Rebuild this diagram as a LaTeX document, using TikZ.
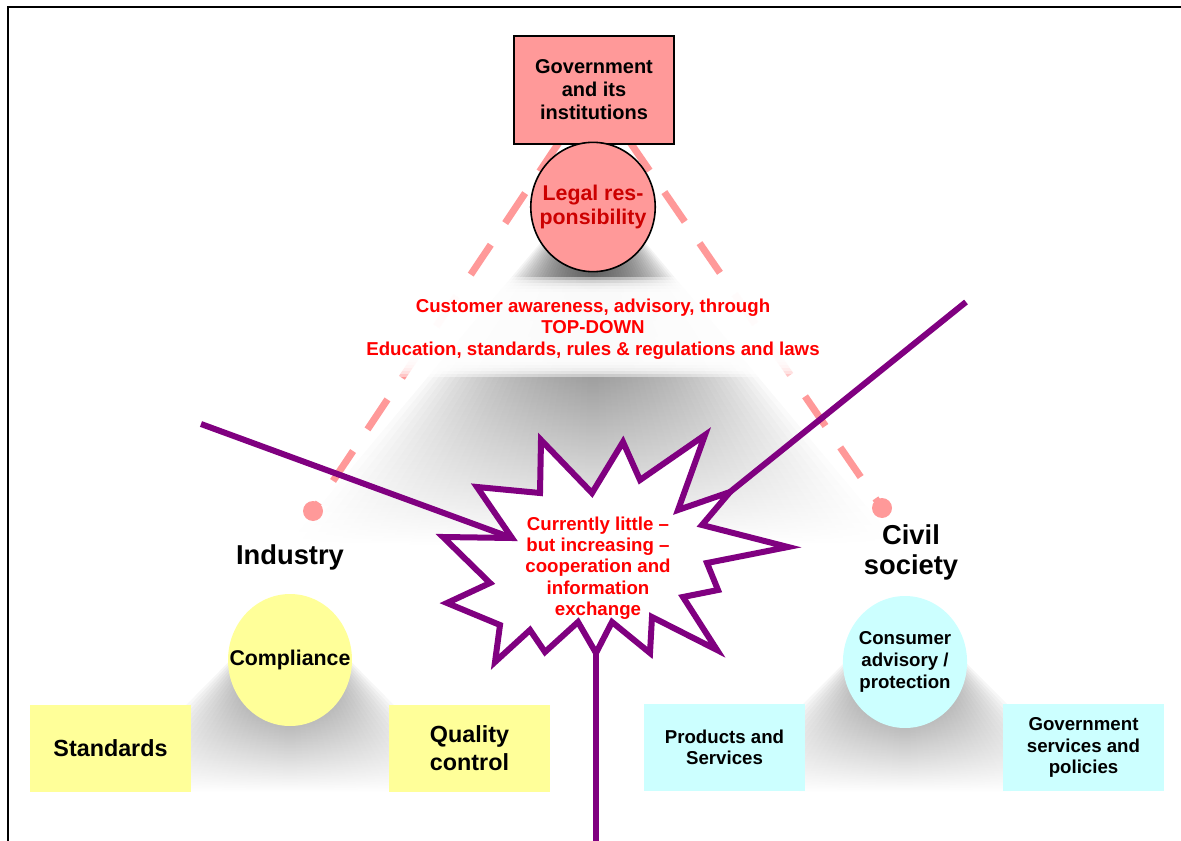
\documentclass[tikz,border=0pt]{standalone}
\usepackage{fontspec}
\setmainfont{Liberation Sans}
\usetikzlibrary{shapes.geometric}
\pgfdeclarelayer{shadow}
\pgfdeclarelayer{background}
\pgfsetlayers{shadow,background,main}

\definecolor{govpink}{HTML}{FF9999}
\definecolor{legalred}{HTML}{CC0000}
\definecolor{linkpurple}{HTML}{800080}
\definecolor{indyellow}{HTML}{FFFF99}
\definecolor{civcyan}{HTML}{CCFFFF}

\tikzset{
  govbox/.style={rectangle, draw=black, line width=1.5pt, fill=govpink, minimum width=120pt, minimum height=81pt, align=center, font=\fontsize{15}{17.3}\selectfont\bfseries},
  legal/.style={ellipse, draw=black, line width=1.2pt, fill=govpink, minimum width=93pt, minimum height=97pt, inner xsep=-7pt, inner ysep=0pt, align=center, text=legalred, font=\fontsize{16}{18}\selectfont\bfseries},
  sector/.style={align=center, font=\fontsize{20.5}{22.5}\selectfont\bfseries},
  yelloval/.style={ellipse, fill=indyellow, minimum width=93pt, minimum height=99pt, inner xsep=-12.5pt, inner ysep=0pt, align=center, font=\fontsize{16}{18}\selectfont\bfseries},
  cyanoval/.style={ellipse, fill=civcyan, minimum width=93pt, minimum height=99pt, inner xsep=-1.7pt, inner ysep=0pt, align=center, font=\fontsize{14}{16.2}\selectfont\bfseries},
  yellbox/.style={rectangle, fill=indyellow, minimum width=120.75pt, minimum height=65.25pt, align=center, font=\fontsize{17.5}{21}\selectfont\bfseries},
  cyanbox/.style={rectangle, fill=civcyan, minimum width=120.75pt, minimum height=65.25pt, align=center, font=\fontsize{14}{16.2}\selectfont\bfseries},
  pinkdot/.style={circle, fill=govpink, minimum size=15pt, inner sep=0pt},
  pinkdash/.style={draw=govpink, line width=5.25pt, dash pattern=on 27pt off 19.5pt},
  linkline/.style={draw=linkpurple, line width=4.5pt},
  redtext/.style={text=red, align=center, font=\fontsize{14}{16}\selectfont\bfseries},
  bigglow/.style={top color=black, bottom color=white, fill opacity=0.055},
  smallglow/.style={top color=black, middle color=black!65, bottom color=white, fill opacity=0.06}
}

\begin{document}
\begin{tikzpicture}[x=0.75pt,y=-0.75pt]
\useasboundingbox (0,0) rectangle (1181,841);

% soft shadows
\begin{pgfonlayer}{shadow}
\foreach \k in {1,...,30}
  \shade[bigglow] (593,180) -- ({593-10.2*\k},545) -- ({593+10.2*\k},545) -- cycle;
\foreach \k in {1,...,25}
  \shade[smallglow] (290,600) -- ({290-7.6*\k},792) -- ({290+7.6*\k},792) -- cycle;
\foreach \k in {1,...,25}
  \shade[smallglow] (905,602) -- ({905-7.6*\k},792) -- ({905+7.6*\k},792) -- cycle;
\end{pgfonlayer}

% top
\node[govbox] (gov) at (594,90) {Government\\and its\\institutions};
\node[legal] (legal) at (593,207) {Legal res-\\ponsibility};

% the two sides
\node[pinkdot] (inddot) at (313,511) {};
\node[pinkdot] (civdot) at (882,508) {};
\node[sector] (industry) at (290,557) {Industry};
\node[sector] (civil) at (911,552) {Civil\\society};

\begin{pgfonlayer}{background}
\draw[pinkdash] (gov.center) -- (inddot.center);
\draw[pinkdash] (gov.center) -- (civdot.center);
\end{pgfonlayer}

% band
\foreach \k in {0,...,5}
  \fill[white, fill opacity=0.45] ({315+6*\k},{277+3*\k}) rectangle ({830-6*\k},{377-3*\k});
\node[redtext] (topdown) at (593,329) {Customer awareness, advisory, through\\TOP-DOWN\\Education, standards, rules \& regulations and laws};

% industry
\node[yelloval] (compliance) at (290,660) {Compliance};
\node[yellbox] (standards) at (110.5,748) {Standards};
\node[yellbox] (quality) at (469.5,748) {Quality\\control};

% civil society
\node[cyanoval] (consumer) at (905,662) {Consumer\\advisory /\\protection};
\node[cyanbox] (products) at (724.5,747.5) {Products and\\Services};
\node[cyanbox] (govservices) at (1083.5,747.5) {Government\\services and\\policies};

% starburst
\coordinate (starL) at (512,538);
\coordinate (starR) at (730,492);
\coordinate (starB) at (596,653);
\draw[linkline, fill=white, line join=miter] (541,440) -- (592,493) -- (623,442) -- (640,480) -- (705,435) -- (678,510) -- (starR) -- (702,525) -- (788,547) -- (707,563) -- (718,590) -- (683,597) -- (717,650) -- (652,617) -- (650,653) -- (612,622) -- (starB) -- (578,622) -- (545,652) -- (530,630) -- (495,662) -- (500,625) -- (447,603) -- (490,583) -- (443,537) -- (starL) -- (477,487) -- (540,493) -- cycle;
\node[redtext] (coop) at (598,568) {Currently little --\\but increasing --\\cooperation and\\information\\exchange};

\coordinate (indend) at (201,424);
\coordinate (civend) at (966,302);
\coordinate (botend) at (596,841);
\draw[linkline] (indend) -- (starL);
\draw[linkline] (civend) -- (starR);
\draw[linkline] (starB) -- (botend);

% frame
\draw[line width=1.5pt] (8,841) -- (8,7) -- (1181,7);
\end{tikzpicture}
\end{document}
